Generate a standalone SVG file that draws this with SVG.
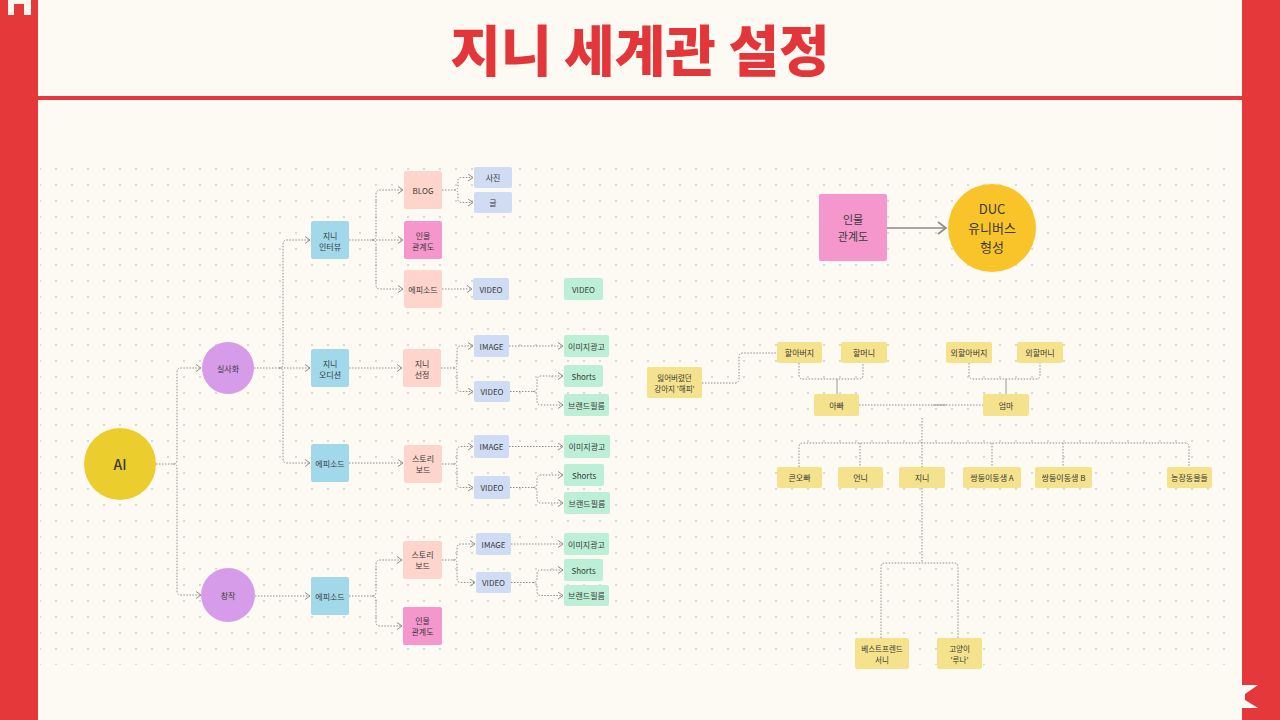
<svg xmlns="http://www.w3.org/2000/svg" width="1280" height="720" viewBox="0 0 1280 720">
<defs>
<style>
text{font-family:"Noto Sans CJK KR","Noto Sans",sans-serif;fill:#3a3a3a;text-anchor:middle;dominant-baseline:central}
.s{font-size:8px}
.c{fill:none;stroke:#8e8e8e;stroke-width:1;stroke-dasharray:1.5 1.5}
.f{fill:none;stroke:#8e8e8e;stroke-width:1;stroke-dasharray:1.5 1.5}
.b{fill:#a2d9ea}
.sa{fill:#fdd5cc}
.pk{fill:#f596cc}
.lb{fill:#cfdcf3}
.gr{fill:#bdefd7}
.pu{fill:#d79ce9}
.st{fill:#f4e28c}
</style>
<marker id="ar" viewBox="0 0 6 8" refX="5.5" refY="4" markerWidth="6" markerHeight="8" markerUnits="userSpaceOnUse" orient="auto">
<path d="M0.5,0.5 L5.5,4 L0.5,7.5" fill="none" stroke="#8e8e8e" stroke-width="1"/>
</marker>
<marker id="ar2" viewBox="0 0 10 14" refX="9" refY="7" markerWidth="10" markerHeight="14" markerUnits="userSpaceOnUse" orient="auto">
<path d="M1,1 L9,7 L1,13" fill="none" stroke="#8a8a8a" stroke-width="1.6"/>
</marker>
<pattern id="dots" x="0" y="0" width="16" height="16" patternUnits="userSpaceOnUse">
<circle cx="8" cy="9" r="1" fill="#d2cec6"/>
</pattern>
</defs>

<!-- background -->
<rect x="0" y="0" width="1280" height="720" fill="#fdfaf3"/>
<rect x="40" y="160" width="1185" height="505" fill="url(#dots)"/>
<rect x="0" y="0" width="38" height="720" fill="#e4383a"/>
<rect x="1242" y="0" width="38" height="720" fill="#e4383a"/>
<path d="M8,0 H31 V15 H24 V4 H14 V15 H8 Z" fill="#fdf6ee"/>
<path d="M1242,685 H1258 L1245,694 V700 L1258,708 H1242 Z" fill="#fdfaf3"/>
<rect x="38" y="96" width="1204" height="4" fill="#e4383a"/>
<text x="640" y="47" style="font-size:55px;font-weight:900;fill:#e3363a">지니 세계관 설정</text>

<!-- connectors -->
<g id="connectors">
<path class="c" d="M156,464 H173 Q177,464 177,460 V372 Q177,368 181,368 H201" marker-end="url(#ar)"/>
<path class="c" d="M173,464 Q177,464 177,468 V591 Q177,595 181,595 H201" marker-end="url(#ar)"/>
<path class="c" d="M254,368 H310" marker-end="url(#ar)"/>
<path class="c" d="M279,368 Q283,368 283,364 V244 Q283,240 287,240 H310" marker-end="url(#ar)"/>
<path class="c" d="M279,368 Q283,368 283,372 V459 Q283,463 287,463 H310" marker-end="url(#ar)"/>
<path class="c" d="M349,240 H403" marker-end="url(#ar)"/>
<path class="c" d="M372,240 Q376,240 376,236 V194 Q376,190 380,190 H403" marker-end="url(#ar)"/>
<path class="c" d="M372,240 Q376,240 376,244 V285 Q376,289 380,289 H403" marker-end="url(#ar)"/>
<path class="c" d="M442,190 H454 Q458,190 458,186 V181 Q458,177.5 462,177.5 H473" marker-end="url(#ar)"/>
<path class="c" d="M454,190 Q458,190 458,194 V199 Q458,202.5 462,202.5 H473" marker-end="url(#ar)"/>
<path class="c" d="M442,289 H472" marker-end="url(#ar)"/>
<path class="c" d="M349,368 H402" marker-end="url(#ar)"/>
<path class="c" d="M441,368 H453 Q457,368 457,364 V350 Q457,346 461,346 H473" marker-end="url(#ar)"/>
<path class="c" d="M453,368 Q457,368 457,372 V387.5 Q457,391.5 461,391.5 H473" marker-end="url(#ar)"/>
<path class="c" d="M509,346 H563" marker-end="url(#ar)"/>
<path class="c" d="M510,391.5 H533 Q537,391.5 537,387.5 V380 Q537,376 541,376 H563" marker-end="url(#ar)"/>
<path class="c" d="M533,391.5 Q537,391.5 537,395.5 V401 Q537,405 541,405 H563" marker-end="url(#ar)"/>
<path class="c" d="M349,463 H403" marker-end="url(#ar)"/>
<path class="c" d="M442,464 H453 Q457,464 457,460 V450.5 Q457,446.5 461,446.5 H473" marker-end="url(#ar)"/>
<path class="c" d="M453,464 Q457,464 457,468 V483.5 Q457,487.5 461,487.5 H473" marker-end="url(#ar)"/>
<path class="c" d="M509,446.5 H563" marker-end="url(#ar)"/>
<path class="c" d="M510,487.5 H533 Q537,487.5 537,483.5 V479 Q537,475 541,475 H563" marker-end="url(#ar)"/>
<path class="c" d="M533,487.5 Q537,487.5 537,491.5 V499 Q537,503 541,503 H563" marker-end="url(#ar)"/>
<path class="c" d="M255,596 H310" marker-end="url(#ar)"/>
<path class="c" d="M349,596 H372 Q376,596 376,592 V564 Q376,560 380,560 H402" marker-end="url(#ar)"/>
<path class="c" d="M372,596 Q376,596 376,600 V622 Q376,626 380,626 H402" marker-end="url(#ar)"/>
<path class="c" d="M442,560 H453 Q457,560 457,556 V548 Q457,544 461,544 H475" marker-end="url(#ar)"/>
<path class="c" d="M453,560 Q457,560 457,564 V578.5 Q457,582.5 461,582.5 H475" marker-end="url(#ar)"/>
<path class="c" d="M511,544 H563" marker-end="url(#ar)"/>
<path class="c" d="M511,582.5 H533 Q537,582.5 537,578.5 V574 Q537,570 541,570 H563" marker-end="url(#ar)"/>
<path class="c" d="M533,582.5 Q537,582.5 537,586.5 V591.5 Q537,595.5 541,595.5 H563" marker-end="url(#ar)"/>
<!-- right -->
<path d="M887,228 H946" fill="none" stroke="#8a8a8a" stroke-width="1.6" marker-end="url(#ar2)"/>
<path class="f" d="M702,383 H735 Q739,383 739,379 V357 Q739,353 743,353 H777"/>
<path class="f" d="M799,363 V375 Q799,379 803,379 H859 Q863,379 863,375 V363"/>
<path d="M837,379 V394" fill="none" stroke="#9a9a9a" stroke-width="1"/>
<path class="f" d="M969,363 V375 Q969,379 973,379 H1036 Q1040,379 1040,375 V363"/>
<path d="M1006,379 V394" fill="none" stroke="#9a9a9a" stroke-width="1"/>
<path class="f" d="M859,405 H983"/>
<path d="M933,405 H946" fill="none" stroke="#9a9a9a" stroke-width="1"/>
<path class="f" d="M922,418 V467"/>
<path class="f" d="M799,467 V447 Q799,443 803,443 H1185 Q1189,443 1189,447 V467"/>
<path class="f" d="M860,443 V467"/>
<path class="f" d="M992,443 V467"/>
<path class="f" d="M1063,443 V467"/>
<path class="f" d="M922,488 V563"/>
<path class="f" d="M881,638 V567 Q881,563 885,563 H954 Q958,563 958,567 V638"/>
</g>

<!-- left tree nodes -->
<g id="ai"><circle cx="120" cy="464" r="36" fill="#ebcd2e"/><text x="120" y="464" style="font-size:14px;font-weight:500">AI</text></g>
<g id="silsahwa"><circle cx="228" cy="368" r="26" class="pu"/><text class="s" x="228" y="368">실사화</text></g>
<g id="changjak"><circle cx="228" cy="595" r="27" class="pu"/><text class="s" x="228" y="595">창작</text></g>

<g id="interview"><rect x="311" y="221" width="38" height="38" rx="2" class="b"/><text class="s" x="330" y="235">지니</text><text class="s" x="330" y="246">인터뷰</text></g>
<g id="blog"><rect x="404" y="171" width="38" height="38" rx="2" class="sa"/><text class="s" x="423" y="190">BLOG</text></g>
<g id="rel1"><rect x="404" y="221" width="38" height="38" rx="2" class="pk"/><text class="s" x="423" y="235">인물</text><text class="s" x="423" y="246">관계도</text></g>
<g id="ep1"><rect x="404" y="270" width="38" height="38" rx="2" class="sa"/><text class="s" x="423" y="289">에피소드</text></g>
<g id="photo"><rect x="474" y="167" width="38" height="21" rx="2" class="lb"/><text class="s" x="493" y="177.5">사진</text></g>
<g id="geul"><rect x="474" y="192" width="38" height="21" rx="2" class="lb"/><text class="s" x="493" y="202.5">글</text></g>
<g id="video1"><rect x="473" y="278" width="36" height="22" rx="2" class="lb"/><text class="s" x="491" y="289">VIDEO</text></g>
<g id="video-green"><rect x="564" y="278" width="39" height="22" rx="2" class="gr"/><text class="s" x="583.5" y="289">VIDEO</text></g>

<g id="audition"><rect x="311" y="349" width="38" height="38" rx="2" class="b"/><text class="s" x="330" y="363">지니</text><text class="s" x="330" y="374">오디션</text></g>
<g id="select"><rect x="403" y="349" width="38" height="38" rx="2" class="sa"/><text class="s" x="422" y="363">지니</text><text class="s" x="422" y="374">선정</text></g>
<g id="image2"><rect x="474" y="335" width="35" height="22" rx="2" class="lb"/><text class="s" x="491.5" y="346">IMAGE</text></g>
<g id="video2"><rect x="474" y="381" width="36" height="21" rx="2" class="lb"/><text class="s" x="492" y="391.5">VIDEO</text></g>
<g id="imgad2"><rect x="564" y="335" width="45" height="22" rx="2" class="gr"/><text class="s" x="586.5" y="346">이미지광고</text></g>
<g id="shorts2"><rect x="564" y="365" width="39" height="22" rx="2" class="gr"/><text class="s" x="583.5" y="376">Shorts</text></g>
<g id="brand2"><rect x="564" y="394" width="45" height="22" rx="2" class="gr"/><text class="s" x="586.5" y="405">브랜드필름</text></g>

<g id="ep2"><rect x="311" y="444" width="38" height="38" rx="2" class="b"/><text class="s" x="330" y="463">에피소드</text></g>
<g id="story3"><rect x="404" y="445" width="38" height="38" rx="2" class="sa"/><text class="s" x="423" y="458">스토리</text><text class="s" x="423" y="469">보드</text></g>
<g id="image3"><rect x="474" y="435" width="35" height="23" rx="2" class="lb"/><text class="s" x="491.5" y="446.5">IMAGE</text></g>
<g id="video3"><rect x="474" y="476" width="36" height="23" rx="2" class="lb"/><text class="s" x="492" y="487.5">VIDEO</text></g>
<g id="imgad3"><rect x="564" y="435" width="46" height="23" rx="2" class="gr"/><text class="s" x="587" y="446.5">이미지광고</text></g>
<g id="shorts3"><rect x="564" y="464" width="40" height="22" rx="2" class="gr"/><text class="s" x="584" y="475">Shorts</text></g>
<g id="brand3"><rect x="564" y="492" width="46" height="22" rx="2" class="gr"/><text class="s" x="587" y="503">브랜드필름</text></g>

<g id="ep4"><rect x="311" y="577" width="38" height="38" rx="2" class="b"/><text class="s" x="330" y="596">에피소드</text></g>
<g id="story4"><rect x="403" y="541" width="39" height="38" rx="2" class="sa"/><text class="s" x="422.5" y="554">스토리</text><text class="s" x="422.5" y="565">보드</text></g>
<g id="rel4"><rect x="403" y="607" width="39" height="38" rx="2" class="pk"/><text class="s" x="422.5" y="620">인물</text><text class="s" x="422.5" y="631">관계도</text></g>
<g id="image4"><rect x="476" y="533" width="35" height="22" rx="2" class="lb"/><text class="s" x="493.5" y="544">IMAGE</text></g>
<g id="video4"><rect x="476" y="572" width="35" height="21" rx="2" class="lb"/><text class="s" x="493.5" y="582.5">VIDEO</text></g>
<g id="imgad4"><rect x="564" y="533" width="45" height="22" rx="2" class="gr"/><text class="s" x="586.5" y="544">이미지광고</text></g>
<g id="shorts4"><rect x="564" y="559" width="39" height="22" rx="2" class="gr"/><text class="s" x="583.5" y="570">Shorts</text></g>
<g id="brand4"><rect x="564" y="585" width="45" height="21" rx="2" class="gr"/><text class="s" x="586.5" y="595.5">브랜드필름</text></g>

<!-- right side -->
<g id="rel-main"><rect x="819" y="194" width="68" height="67" rx="2" class="pk"/><text x="853" y="219" style="font-size:11px">인물</text><text x="853" y="236" style="font-size:11px">관계도</text></g>
<g id="duc"><circle cx="992" cy="228" r="44" fill="#f9c42a"/><text x="992" y="208" style="font-size:13px">DUC</text><text x="992" y="227" style="font-size:13px">유니버스</text><text x="992" y="246" style="font-size:13px">형성</text></g>

<g id="dog"><rect x="647" y="367" width="55" height="31" rx="2" class="st"/><text x="674.5" y="377" style="font-size:7.5px">잃어버렸던</text><text x="674.5" y="388" style="font-size:7.5px">강아지 '해피'</text></g>
<g id="grandpa"><rect x="777" y="342" width="45" height="21" rx="2" class="st"/><text class="s" x="799.5" y="352.5">할아버지</text></g>
<g id="grandma"><rect x="841" y="342" width="46" height="21" rx="2" class="st"/><text class="s" x="864" y="352.5">할머니</text></g>
<g id="mgrandpa"><rect x="946" y="342" width="46" height="21" rx="2" class="st"/><text class="s" x="969" y="352.5">외할아버지</text></g>
<g id="mgrandma"><rect x="1017" y="342" width="46" height="21" rx="2" class="st"/><text class="s" x="1040" y="352.5">외할머니</text></g>
<g id="dad"><rect x="814" y="394" width="45" height="22" rx="2" class="st"/><text class="s" x="836.5" y="405">아빠</text></g>
<g id="mom"><rect x="983" y="394" width="46" height="22" rx="2" class="st"/><text class="s" x="1006" y="405">엄마</text></g>
<g id="brother"><rect x="777" y="467" width="45" height="21" rx="2" class="st"/><text class="s" x="799.5" y="477.5">큰오빠</text></g>
<g id="sister"><rect x="838" y="467" width="45" height="21" rx="2" class="st"/><text class="s" x="860.5" y="477.5">언니</text></g>
<g id="jini"><rect x="899" y="467" width="46" height="21" rx="2" class="st"/><text class="s" x="922" y="477.5">지니</text></g>
<g id="twin-a"><rect x="963" y="467" width="58" height="21" rx="2" class="st"/><text class="s" x="992" y="477.5">쌍둥이동생 A</text></g>
<g id="twin-b"><rect x="1035" y="467" width="57" height="21" rx="2" class="st"/><text class="s" x="1063.5" y="477.5">쌍둥이동생 B</text></g>
<g id="farm"><rect x="1167" y="467" width="45" height="21" rx="2" class="st"/><text class="s" x="1189.5" y="477.5">농장동물들</text></g>
<g id="sunny"><rect x="855" y="638" width="54" height="31" rx="2" class="st"/><text x="882" y="648" style="font-size:7.5px">베스트프렌드</text><text x="882" y="659" style="font-size:7.5px">서니</text></g>
<g id="cat"><rect x="937" y="638" width="45" height="31" rx="2" class="st"/><text x="959.5" y="648" style="font-size:7.5px">고양이</text><text x="959.5" y="659" style="font-size:7.5px">'루나'</text></g>
</svg>
